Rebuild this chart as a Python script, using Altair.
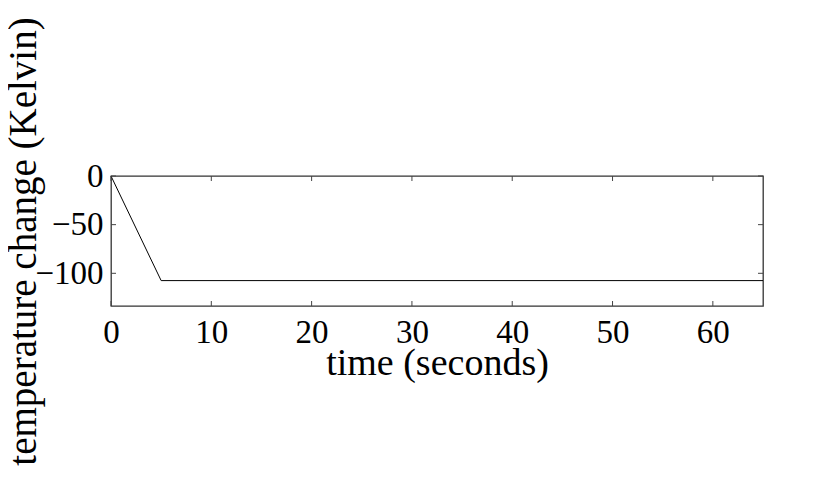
import altair as alt
import pandas as pd

# data
time_s = [0, 5, 65]
temp_change = [0, -107.5, -107.5]
x_ticks = [0, 10, 20, 30, 40, 50, 60]
y_ticks = [0, -50, -100]

W, H = 652, 130
FONT = "Liberation Serif"

df = pd.DataFrame({"t": time_s, "dT": temp_change})
xt = pd.DataFrame({"t": x_ticks})
yt = pd.DataFrame({"dT": y_ticks})

xscale = alt.Scale(domain=[0, 65], nice=False, zero=False)
yscale = alt.Scale(domain=[-133.6, 0], nice=False, zero=False)

x_axis = alt.Axis(values=x_ticks, grid=False, ticks=False, domain=False,
                  labelFlush=False, labelOverlap=False,
                  labelFont=FONT, labelFontSize=33, labelColor="black",
                  labelPadding=10, title="time (seconds)", titleFont=FONT,
                  titleFontSize=38, titleFontWeight="normal", titleColor="black",
                  titleY=68, titleBaseline="alphabetic")
y_axis = alt.Axis(values=y_ticks, grid=False, ticks=False, domain=False,
                  labelFlush=False, labelOverlap=False,
                  labelFont=FONT, labelFontSize=33, labelColor="black",
                  labelPadding=8, title="temperature change (Kelvin)",
                  titleFont=FONT, titleFontSize=39, titleFontWeight="normal",
                  titleColor="black", titleAngle=-90, titleX=-76, titleY=H / 2,
                  titleAlign="center", titleBaseline="alphabetic")

line = alt.Chart(df).mark_line(color="black", strokeWidth=1).encode(
    x=alt.X("t:Q", scale=xscale, axis=x_axis),
    y=alt.Y("dT:Q", scale=yscale, axis=y_axis),
)

tick_style = dict(color="#444444", strokeWidth=1)
xt_top = alt.Chart(xt).mark_rule(**tick_style).encode(
    x=alt.X("t:Q", scale=xscale), y=alt.value(0), y2=alt.value(5))
xt_bot = alt.Chart(xt).mark_rule(**tick_style).encode(
    x=alt.X("t:Q", scale=xscale), y=alt.value(H), y2=alt.value(H - 5))
yt_left = alt.Chart(yt).mark_rule(**tick_style).encode(
    y=alt.Y("dT:Q", scale=yscale), x=alt.value(0), x2=alt.value(5))
yt_right = alt.Chart(yt).mark_rule(**tick_style).encode(
    y=alt.Y("dT:Q", scale=yscale), x=alt.value(W), x2=alt.value(W - 5))

chart = alt.layer(line, xt_top, xt_bot, yt_left, yt_right).properties(
    width=W, height=H,
    background="white",
    autosize=alt.AutoSizeParams(type="none"),
    padding={"left": 103, "top": 168, "right": 59, "bottom": 172},
).configure_view(stroke="#333333", strokeWidth=1.3)

chart.save("out.html", embed_options={"renderer": "svg", "actions": False})
